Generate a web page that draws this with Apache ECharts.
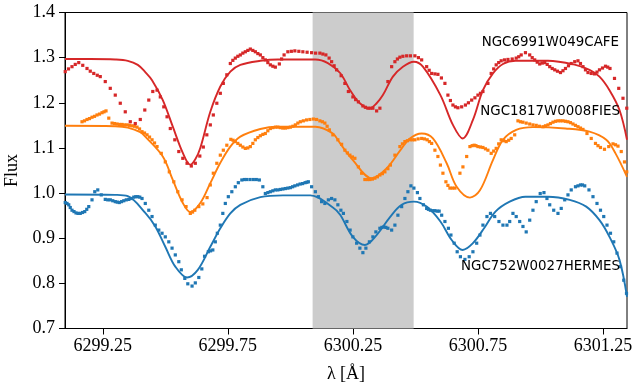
<!DOCTYPE html>
<html>
<head>
<meta charset="utf-8">
<script src="https://cdn.jsdelivr.net/npm/echarts@6/dist/echarts.min.js"></script>
<style>
  html, body { margin: 0; padding: 0; background: #fff; }
  #chart { width: 633px; height: 386px; }
</style>
</head>
<body>
<div id="chart"></div>
<script>
// Wavelength window and tick positions (Å)
const xMin = 6299.099;
const xMax = 6301.346;
const xTicks = [6299.25, 6299.75, 6300.25, 6300.75, 6301.25];
const yMin = 0.7, yMax = 1.4, yStep = 0.1;

// Region excluded from the fit (Å)
const maskedBand = [6300.089, 6300.493];

// Star labels
const names = ['NGC6991W049CAFE', 'NGC1817W0008FIES', 'NGC752W0027HERMES'];

// Observed spectra: [wavelength, normalised flux]
const redObs = [
  [6299.100,1.269],[6299.113,1.275],[6299.127,1.280],[6299.140,1.285],[6299.154,1.289],
  [6299.170,1.283],[6299.187,1.276],[6299.200,1.270],[6299.214,1.265],[6299.228,1.261],
  [6299.240,1.258],[6299.260,1.247],[6299.280,1.232],[6299.300,1.217],[6299.320,1.199],
  [6299.340,1.180],[6299.360,1.158],[6299.380,1.154],[6299.400,1.163],[6299.418,1.184],
  [6299.434,1.206],[6299.450,1.225],[6299.467,1.228],[6299.480,1.213],[6299.494,1.191],
  [6299.507,1.169],[6299.520,1.143],[6299.538,1.118],[6299.554,1.092],[6299.570,1.077],
  [6299.587,1.066],[6299.604,1.060],[6299.620,1.066],[6299.638,1.082],[6299.652,1.102],
  [6299.666,1.129],[6299.680,1.151],[6299.692,1.173],[6299.706,1.199],[6299.720,1.221],
  [6299.732,1.243],[6299.746,1.262],[6299.760,1.287],[6299.770,1.294],[6299.780,1.299],
  [6299.790,1.303],[6299.800,1.306],[6299.810,1.310],[6299.820,1.313],[6299.830,1.316],
  [6299.840,1.319],[6299.850,1.316],[6299.860,1.313],[6299.870,1.309],[6299.880,1.306],
  [6299.890,1.300],[6299.900,1.295],[6299.910,1.289],[6299.920,1.284],[6299.930,1.281],
  [6299.940,1.279],[6299.956,1.286],[6299.965,1.297],[6299.975,1.306],[6299.990,1.313],
  [6300.004,1.314],[6300.018,1.315],[6300.034,1.314],[6300.050,1.313],[6300.067,1.312],
  [6300.085,1.311],[6300.101,1.310],[6300.118,1.310],[6300.130,1.308],[6300.142,1.306],
  [6300.155,1.299],[6300.165,1.291],[6300.175,1.282],[6300.185,1.273],[6300.203,1.260],
  [6300.218,1.243],[6300.232,1.225],[6300.250,1.213],[6300.261,1.207],[6300.272,1.202],
  [6300.290,1.193],[6300.300,1.190],[6300.310,1.188],[6300.320,1.188],[6300.330,1.188],
  [6300.345,1.182],[6300.358,1.188],[6300.390,1.247],[6300.405,1.280],[6300.418,1.291],
  [6300.428,1.297],[6300.438,1.301],[6300.450,1.303],[6300.465,1.304],[6300.480,1.304],
  [6300.498,1.304],[6300.512,1.300],[6300.525,1.295],[6300.545,1.280],[6300.555,1.272],
  [6300.565,1.265],[6300.578,1.264],[6300.590,1.263],[6300.604,1.255],[6300.618,1.243],
  [6300.630,1.217],[6300.640,1.205],[6300.650,1.195],[6300.660,1.191],[6300.670,1.189],
  [6300.685,1.191],[6300.700,1.195],[6300.712,1.200],[6300.725,1.206],[6300.738,1.211],
  [6300.750,1.217],[6300.760,1.221],[6300.770,1.225],[6300.790,1.243],[6300.803,1.265],
  [6300.813,1.275],[6300.823,1.284],[6300.833,1.289],[6300.843,1.293],[6300.856,1.295],
  [6300.870,1.296],[6300.887,1.297],[6300.903,1.299],[6300.913,1.302],[6300.923,1.306],
  [6300.940,1.311],[6300.957,1.306],[6300.967,1.300],[6300.977,1.295],[6300.987,1.290],
  [6300.997,1.286],[6301.007,1.288],[6301.017,1.289],[6301.027,1.285],[6301.037,1.280],
  [6301.047,1.276],[6301.057,1.273],[6301.068,1.270],[6301.080,1.267],[6301.090,1.271],
  [6301.100,1.276],[6301.112,1.282],[6301.123,1.287],[6301.137,1.291],[6301.150,1.293],
  [6301.160,1.287],[6301.170,1.280],[6301.180,1.273],[6301.190,1.267],[6301.203,1.265],
  [6301.216,1.264],[6301.226,1.268],[6301.236,1.273],[6301.248,1.277],[6301.260,1.281],
  [6301.269,1.279],[6301.278,1.276],[6301.296,1.254],[6301.313,1.232],[6301.330,1.210],
  [6301.345,1.188]
];

const orangeObs = [
  [6299.167,1.158],[6299.177,1.160],[6299.187,1.163],[6299.197,1.165],[6299.207,1.168],
  [6299.217,1.170],[6299.227,1.173],[6299.237,1.175],[6299.247,1.178],[6299.255,1.180],
  [6299.263,1.182],[6299.274,1.166],[6299.287,1.155],[6299.297,1.154],[6299.307,1.153],
  [6299.317,1.152],[6299.327,1.152],[6299.337,1.151],[6299.347,1.151],[6299.357,1.150],
  [6299.367,1.149],[6299.377,1.148],[6299.387,1.146],[6299.397,1.142],[6299.407,1.136],
  [6299.417,1.133],[6299.427,1.129],[6299.437,1.124],[6299.447,1.118],[6299.457,1.111],
  [6299.467,1.103],[6299.484,1.088],[6299.500,1.069],[6299.516,1.047],[6299.534,1.025],
  [6299.550,1.003],[6299.567,0.985],[6299.583,0.970],[6299.600,0.955],[6299.609,0.958],
  [6299.618,0.962],[6299.634,0.970],[6299.650,0.976],[6299.667,0.990],[6299.680,1.018],
  [6299.692,1.044],[6299.706,1.066],[6299.720,1.084],[6299.732,1.095],[6299.746,1.106],
  [6299.762,1.119],[6299.771,1.117],[6299.780,1.114],[6299.790,1.110],[6299.800,1.106],
  [6299.810,1.102],[6299.820,1.099],[6299.830,1.100],[6299.840,1.103],[6299.850,1.110],
  [6299.860,1.118],[6299.870,1.123],[6299.880,1.127],[6299.890,1.130],[6299.900,1.132],
  [6299.910,1.138],[6299.920,1.143],[6299.930,1.145],[6299.940,1.146],[6299.950,1.146],
  [6299.960,1.145],[6299.970,1.144],[6299.980,1.144],[6299.990,1.145],[6300.000,1.146],
  [6300.010,1.148],[6300.020,1.151],[6300.030,1.155],[6300.040,1.158],[6300.052,1.160],
  [6300.065,1.162],[6300.078,1.163],[6300.092,1.164],[6300.105,1.163],[6300.118,1.160],
  [6300.128,1.158],[6300.138,1.155],[6300.147,1.148],[6300.156,1.140],[6300.170,1.129],
  [6300.190,1.118],[6300.205,1.108],[6300.218,1.095],[6300.228,1.089],[6300.238,1.084],
  [6300.248,1.080],[6300.258,1.077],[6300.272,1.058],[6300.285,1.044],[6300.298,1.030],
  [6300.308,1.030],[6300.318,1.030],[6300.328,1.031],[6300.338,1.033],[6300.348,1.036],
  [6300.358,1.040],[6300.368,1.043],[6300.378,1.047],[6300.390,1.054],[6300.400,1.062],
  [6300.418,1.084],[6300.438,1.103],[6300.448,1.109],[6300.458,1.114],[6300.468,1.116],
  [6300.478,1.118],[6300.488,1.118],[6300.498,1.118],[6300.511,1.120],[6300.525,1.121],
  [6300.536,1.120],[6300.547,1.118],[6300.556,1.114],[6300.565,1.110],[6300.578,1.095],
  [6300.590,1.081],[6300.600,1.062],[6300.610,1.044],[6300.622,1.025],[6300.630,1.017],
  [6300.638,1.011],[6300.648,1.011],[6300.658,1.011],[6300.678,1.044],[6300.690,1.058],
  [6300.705,1.081],[6300.718,1.103],[6300.727,1.105],[6300.735,1.106],[6300.742,1.105],
  [6300.750,1.103],[6300.760,1.102],[6300.770,1.101],[6300.780,1.098],[6300.790,1.095],
  [6300.803,1.088],[6300.813,1.093],[6300.823,1.099],[6300.833,1.109],[6300.843,1.118],
  [6300.853,1.116],[6300.863,1.114],[6300.873,1.117],[6300.883,1.121],[6300.897,1.129],
  [6300.910,1.160],[6300.920,1.158],[6300.930,1.157],[6300.943,1.155],[6300.957,1.153],
  [6300.970,1.151],[6300.983,1.150],[6300.996,1.148],[6301.010,1.147],[6301.020,1.149],
  [6301.030,1.151],[6301.040,1.154],[6301.050,1.157],[6301.060,1.159],[6301.070,1.160],
  [6301.080,1.160],[6301.090,1.160],[6301.100,1.159],[6301.110,1.158],[6301.120,1.156],
  [6301.130,1.153],[6301.140,1.150],[6301.150,1.147],[6301.160,1.144],[6301.170,1.141],
  [6301.186,1.132],[6301.203,1.121],[6301.220,1.110],[6301.230,1.105],[6301.240,1.101],
  [6301.256,1.097],[6301.273,1.103],[6301.290,1.109],[6301.300,1.107],[6301.310,1.104],
  [6301.323,1.092],[6301.336,1.069],[6301.345,1.047]
];

const blueObs = [
  [6299.100,0.979],[6299.107,0.977],[6299.114,0.974],[6299.120,0.968],[6299.127,0.962],
  [6299.135,0.959],[6299.143,0.956],[6299.151,0.955],[6299.160,0.955],[6299.169,0.957],
  [6299.178,0.959],[6299.186,0.964],[6299.194,0.970],[6299.207,0.985],[6299.218,1.003],
  [6299.230,1.007],[6299.244,0.996],[6299.260,0.986],[6299.270,0.985],[6299.280,0.985],
  [6299.290,0.983],[6299.300,0.981],[6299.308,0.980],[6299.316,0.979],[6299.325,0.981],
  [6299.334,0.983],[6299.344,0.985],[6299.354,0.986],[6299.364,0.988],[6299.374,0.991],
  [6299.382,0.992],[6299.390,0.992],[6299.398,0.991],[6299.407,0.988],[6299.420,0.977],
  [6299.434,0.962],[6299.447,0.948],[6299.460,0.929],[6299.474,0.918],[6299.487,0.911],
  [6299.500,0.903],[6299.514,0.892],[6299.527,0.878],[6299.540,0.863],[6299.554,0.848],
  [6299.564,0.830],[6299.578,0.811],[6299.590,0.799],[6299.607,0.794],[6299.620,0.801],
  [6299.634,0.813],[6299.646,0.832],[6299.657,0.860],[6299.672,0.870],[6299.681,0.872],
  [6299.690,0.874],[6299.700,0.892],[6299.708,0.911],[6299.720,0.929],[6299.730,0.955],
  [6299.740,0.977],[6299.752,0.992],[6299.766,1.003],[6299.780,1.014],[6299.792,1.023],
  [6299.806,1.029],[6299.816,1.030],[6299.826,1.030],[6299.839,1.030],[6299.852,1.030],
  [6299.864,1.030],[6299.876,1.029],[6299.890,1.014],[6299.900,0.999],[6299.910,1.001],
  [6299.920,1.003],[6299.930,1.005],[6299.940,1.007],[6299.950,1.007],[6299.960,1.008],
  [6299.970,1.009],[6299.980,1.010],[6299.990,1.011],[6300.000,1.012],[6300.009,1.014],
  [6300.018,1.016],[6300.029,1.018],[6300.039,1.020],[6300.049,1.021],[6300.059,1.023],
  [6300.066,1.024],[6300.072,1.025],[6300.085,1.014],[6300.100,1.003],[6300.112,0.992],
  [6300.125,0.981],[6300.138,0.977],[6300.152,0.985],[6300.165,0.988],[6300.178,0.985],
  [6300.190,0.974],[6300.202,0.962],[6300.212,0.955],[6300.226,0.937],[6300.239,0.918],
  [6300.250,0.903],[6300.265,0.889],[6300.278,0.878],[6300.290,0.868],[6300.302,0.878],
  [6300.316,0.892],[6300.330,0.903],[6300.342,0.914],[6300.358,0.922],[6300.366,0.924],
  [6300.374,0.925],[6300.382,0.924],[6300.390,0.922],[6300.405,0.918],[6300.418,0.929],
  [6300.430,0.951],[6300.445,0.970],[6300.458,0.988],[6300.470,1.003],[6300.482,1.016],
  [6300.494,1.011],[6300.508,1.001],[6300.518,0.988],[6300.532,0.974],[6300.545,0.966],
  [6300.552,0.964],[6300.560,0.962],[6300.569,0.961],[6300.578,0.961],[6300.587,0.960],
  [6300.595,0.960],[6300.605,0.951],[6300.618,0.937],[6300.632,0.922],[6300.642,0.907],
  [6300.655,0.889],[6300.667,0.870],[6300.680,0.859],[6300.698,0.853],[6300.715,0.859],
  [6300.730,0.870],[6300.745,0.889],[6300.758,0.907],[6300.770,0.929],[6300.786,0.948],
  [6300.800,0.955],[6300.817,0.948],[6300.834,0.937],[6300.850,0.929],[6300.866,0.929],
  [6300.877,0.937],[6300.890,0.955],[6300.903,0.948],[6300.917,0.937],[6300.930,0.926],
  [6300.943,0.914],[6300.957,0.940],[6300.970,0.962],[6300.983,0.981],[6300.999,0.999],
  [6301.014,1.001],[6301.026,0.988],[6301.037,0.974],[6301.053,0.962],[6301.070,0.955],
  [6301.083,0.966],[6301.097,0.985],[6301.110,0.996],[6301.123,1.007],[6301.140,1.014],
  [6301.150,1.016],[6301.160,1.018],[6301.168,1.018],[6301.177,1.016],[6301.194,1.007],
  [6301.210,0.992],[6301.226,0.977],[6301.240,0.962],[6301.253,0.948],[6301.266,0.929],
  [6301.280,0.911],[6301.293,0.892],[6301.306,0.867],[6301.320,0.837],[6301.333,0.807],
  [6301.344,0.778]
];

// Synthetic (fitted) spectra: [wavelength, normalised flux]
const redFit = [
  [6299.099,1.297],[6299.200,1.297],[6299.300,1.296],[6299.350,1.293],[6299.390,1.284],
  [6299.420,1.268],[6299.447,1.250],[6299.490,1.206],[6299.530,1.147],[6299.570,1.089],
  [6299.600,1.063],[6299.620,1.075],[6299.640,1.100],[6299.680,1.180],[6299.720,1.236],
  [6299.760,1.269],[6299.800,1.284],[6299.880,1.293],[6299.950,1.296],[6300.100,1.296],
  [6300.150,1.288],[6300.199,1.266],[6300.239,1.228],[6300.278,1.199],[6300.318,1.188],
  [6300.345,1.199],[6300.370,1.217],[6300.410,1.258],[6300.450,1.280],[6300.494,1.291],
  [6300.530,1.280],[6300.600,1.217],[6300.650,1.151],[6300.689,1.121],[6300.730,1.162],
  [6300.770,1.228],[6300.810,1.265],[6300.850,1.286],[6300.900,1.293],[6301.030,1.293],
  [6301.140,1.284],[6301.196,1.273],[6301.236,1.258],[6301.276,1.228],[6301.316,1.184],
  [6301.346,1.118]
];

const orangeFit = [
  [6299.099,1.149],[6299.300,1.148],[6299.350,1.145],[6299.400,1.135],[6299.420,1.125],
  [6299.490,1.081],[6299.530,1.029],[6299.570,0.978],[6299.600,0.958],[6299.640,0.978],
  [6299.680,1.022],[6299.720,1.067],[6299.760,1.103],[6299.800,1.125],[6299.880,1.142],
  [6299.950,1.147],[6300.100,1.147],[6300.170,1.132],[6300.199,1.110],[6300.250,1.073],
  [6300.325,1.033],[6300.385,1.055],[6300.440,1.095],[6300.478,1.121],[6300.525,1.132],
  [6300.570,1.121],[6300.625,1.066],[6300.665,1.014],[6300.718,0.990],[6300.758,1.006],
  [6300.810,1.073],[6300.850,1.118],[6300.903,1.140],[6300.970,1.146],[6301.100,1.143],
  [6301.196,1.136],[6301.263,1.118],[6301.300,1.088],[6301.346,1.036]
];

const blueFit = [
  [6299.099,0.997],[6299.300,0.996],[6299.350,0.993],[6299.420,0.956],[6299.460,0.926],
  [6299.500,0.881],[6299.540,0.837],[6299.587,0.813],[6299.630,0.830],[6299.680,0.881],
  [6299.720,0.922],[6299.760,0.955],[6299.800,0.974],[6299.880,0.991],[6299.970,0.995],
  [6300.080,0.995],[6300.170,0.968],[6300.199,0.952],[6300.250,0.903],[6300.298,0.885],
  [6300.345,0.907],[6300.400,0.948],[6300.445,0.974],[6300.494,0.981],[6300.545,0.970],
  [6300.600,0.937],[6300.645,0.896],[6300.689,0.874],[6300.730,0.889],[6300.778,0.925],
  [6300.820,0.959],[6300.877,0.981],[6300.940,0.992],[6301.030,0.992],[6301.117,0.985],
  [6301.183,0.970],[6301.236,0.940],[6301.276,0.903],[6301.316,0.852],[6301.346,0.770]
];

const colors = { red: '#d62728', orange: '#ff7f0e', blue: '#1f77b4' };

const serif = '"Liberation Serif", "DejaVu Serif", serif';
const sans = '"DejaVu Sans", sans-serif';

function obsSeries(data, color) {
  return {
    type: 'scatter',
    data: data,
    symbol: 'rect',
    symbolSize: 3.2,
    itemStyle: { color: color, opacity: 1 },
    silent: true,
    z: 3
  };
}
function fitSeries(data, color) {
  return {
    type: 'line',
    data: data,
    showSymbol: false,
    smooth: 0.35,
    lineStyle: { color: color, width: 1.9 },
    silent: true,
    z: 4
  };
}

const chart = echarts.init(document.getElementById('chart'), null, { renderer: 'canvas' });

chart.setOption({
  animation: false,
  backgroundColor: '#fff',
  grid: {
    left: 65, right: 6, top: 12.5, bottom: 57.5,
    containLabel: false,
    outerBoundsMode: 'none',
    show: true, borderColor: '#000', borderWidth: 1
  },
  xAxis: {
    type: 'value',
    min: xMin, max: xMax,
    name: 'λ [Å]',
    nameLocation: 'middle',
    nameGap: 37,
    nameTextStyle: { fontFamily: serif, fontSize: 18, color: '#000' },
    axisLine: { show: true, onZero: false, lineStyle: { color: '#000', width: 1 } },
    axisTick: { show: true, inside: false, length: 6, customValues: xTicks, lineStyle: { color: '#000', width: 1 } },
    axisLabel: {
      customValues: xTicks,
      formatter: v => v.toFixed(2),
      fontFamily: serif, fontSize: 18, color: '#000', margin: 9
    },
    splitLine: { show: false }
  },
  yAxis: {
    type: 'value',
    min: yMin, max: yMax, interval: yStep,
    name: 'Flux',
    nameLocation: 'middle',
    nameGap: 37,
    nameTextStyle: { fontFamily: serif, fontSize: 18, color: '#000' },
    axisLine: { show: true, onZero: false, lineStyle: { color: '#000', width: 1 } },
    axisTick: { show: true, inside: false, length: 6, lineStyle: { color: '#000', width: 1 } },
    axisLabel: {
      formatter: v => v.toFixed(1),
      fontFamily: serif, fontSize: 18, color: '#000', margin: 10
    },
    splitLine: { show: false }
  },
  graphic: [
    { type: 'text', right: 14, top: 36, style: { text: names[0], font: '13.4px ' + sans, fill: '#000' }, z: 10 },
    { type: 'text', right: 13, top: 105, style: { text: names[1], font: '13.4px ' + sans, fill: '#000' }, z: 10 },
    { type: 'text', right: 13, top: 260, style: { text: names[2], font: '13.4px ' + sans, fill: '#000' }, z: 10 }
  ],
  series: [
    {
      type: 'line',
      data: [],
      silent: true,
      z: 1,
      markArea: {
        silent: true,
        itemStyle: { color: '#cccccc', opacity: 1 },
        data: [[{ xAxis: maskedBand[0] }, { xAxis: maskedBand[1] }]]
      }
    },
    obsSeries(blueObs, colors.blue),
    fitSeries(blueFit, colors.blue),
    obsSeries(orangeObs, colors.orange),
    fitSeries(orangeFit, colors.orange),
    obsSeries(redObs, colors.red),
    fitSeries(redFit, colors.red)
  ]
});
</script>
</body>
</html>
